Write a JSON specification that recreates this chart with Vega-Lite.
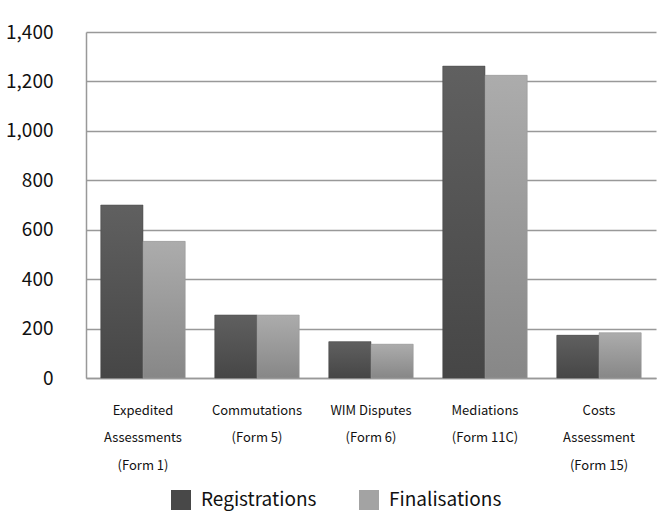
{
  "$schema": "https://vega.github.io/schema/vega-lite/v6.json",
  "width": 570,
  "height": 346,
  "autosize": {"type": "none"},
  "padding": {"left": 86, "top": 32, "right": 1, "bottom": 133},
  "background": "white",
  "config": {
    "view": {"stroke": null},
    "font": "Noto Sans CJK KR"
  },
  "data": {
    "values": [
      {"category": "Expedited|Assessments|(Form 1)", "series": "Registrations", "value": 700},
      {"category": "Expedited|Assessments|(Form 1)", "series": "Finalisations", "value": 553},
      {"category": "Commutations|(Form 5)", "series": "Registrations", "value": 255},
      {"category": "Commutations|(Form 5)", "series": "Finalisations", "value": 255},
      {"category": "WIM Disputes|(Form 6)", "series": "Registrations", "value": 147},
      {"category": "WIM Disputes|(Form 6)", "series": "Finalisations", "value": 137},
      {"category": "Mediations|(Form 11C)", "series": "Registrations", "value": 1262},
      {"category": "Mediations|(Form 11C)", "series": "Finalisations", "value": 1225},
      {"category": "Costs|Assessment|(Form 15)", "series": "Registrations", "value": 173},
      {"category": "Costs|Assessment|(Form 15)", "series": "Finalisations", "value": 183}
    ]
  },
  "encoding": {
    "x": {
      "field": "category",
      "type": "nominal",
      "sort": null,
      "scale": {"paddingInner": 0.26, "paddingOuter": 0.13},
      "axis": {
        "title": null,
        "labelAngle": 0,
        "labelExpr": "split(datum.label, '|')",
        "labelFontSize": 13,
        "labelLineHeight": 27.5,
        "labelColor": "#111",
        "labelPadding": 26,
        "labelBaseline": "top",
        "ticks": false,
        "domainColor": "#999",
        "domainWidth": 1.5,
        "labelLimit": 200
      }
    },
    "xOffset": {"field": "series", "type": "nominal", "sort": ["Registrations", "Finalisations"]},
    "y": {
      "field": "value",
      "type": "quantitative",
      "scale": {"domain": [0, 1400]},
      "axis": {
        "title": null,
        "values": [0, 200, 400, 600, 800, 1000, 1200, 1400],
        "format": ",d",
        "labelFontSize": 19,
        "labelColor": "#111",
        "labelPadding": 33,
        "ticks": false,
        "domainColor": "#999",
        "domainWidth": 1.5,
        "gridColor": "#999",
        "gridWidth": 1.5
      }
    }
  },
  "layer": [
    {
      "mark": {"type": "bar"},
      "encoding": {
        "color": {
          "field": "series",
          "type": "nominal",
          "sort": ["Registrations", "Finalisations"],
          "scale": {"domain": ["Registrations", "Finalisations"], "range": ["#484848", "#a3a3a3"]},
          "legend": {
            "title": null,
            "orient": "none",
            "legendX": 85,
            "legendY": 458,
            "direction": "horizontal",
            "symbolType": "square",
            "symbolSize": 400,
            "symbolStrokeWidth": 0,
            "labelFontSize": 19,
            "labelColor": "#111",
            "labelOffset": 10,
            "columnPadding": 42
          }
        }
      }
    },
    {
      "transform": [{"filter": "datum.series === 'Registrations'"}],
      "mark": {
        "type": "bar",
        "stroke": "#4a4a4a",
        "strokeWidth": 0.5,
        "fill": {
          "gradient": "linear",
          "x1": 0, "y1": 0, "x2": 0, "y2": 1,
          "stops": [{"offset": 0, "color": "#606060"}, {"offset": 1, "color": "#464646"}]
        }
      }
    },
    {
      "transform": [{"filter": "datum.series === 'Finalisations'"}],
      "mark": {
        "type": "bar",
        "stroke": "#999999",
        "strokeWidth": 0.5,
        "fill": {
          "gradient": "linear",
          "x1": 0, "y1": 0, "x2": 0, "y2": 1,
          "stops": [{"offset": 0, "color": "#acacac"}, {"offset": 1, "color": "#878787"}]
        }
      }
    }
  ]
}
